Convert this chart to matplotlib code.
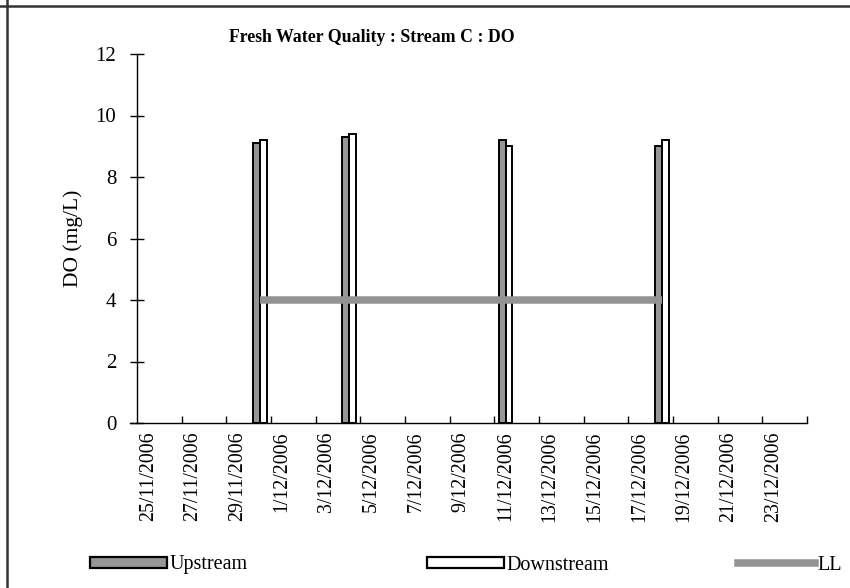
import pandas as pd
import matplotlib
matplotlib.use('Agg')
import matplotlib.pyplot as plt
import matplotlib.dates as mdates
from matplotlib.patches import Patch
from matplotlib.lines import Line2D

# 採樣日期與 DO 數據
sample_dates = ['30/11/2006', '4/12/2006', '11/12/2006', '18/12/2006']
upstream = [9.1, 9.3, 9.2, 9.0]
downstream = [9.2, 9.4, 9.0, 9.2]
ll = [4, 4, 4, 4]

axis_start = '25/11/2006'
axis_days = 30

plt.rcParams['font.family'] = ['Liberation Serif', 'DejaVu Serif']

x = mdates.date2num(pd.to_datetime(sample_dates, dayfirst=True))
x0 = mdates.date2num(pd.to_datetime(axis_start, dayfirst=True))

fig = plt.figure(figsize=(8.5, 5.88), dpi=100)
ax = fig.add_axes([137 / 850, 1 - 423 / 588, 670 / 850, 369 / 588])

bw = 0.3
ax.bar(x - bw / 2, upstream, width=bw, color='#969696', edgecolor='black', linewidth=1.4, label='Upstream')
ax.bar(x + bw / 2, downstream, width=bw, color='white', edgecolor='black', linewidth=1.4, label='Downstream')
ax.plot(x, ll, color='#939393', linewidth=5.4, solid_capstyle='butt', label='LL')

ax.set_xlim(x0 - 0.5, x0 + axis_days - 0.5)
ax.set_ylim(0, 12)
ax.set_yticks(range(0, 13, 2))
ax.tick_params(axis='y', direction='inout', length=10, width=1, labelsize=15, pad=10)

# 刻度線在區間邊界，日期標籤放在日期中心
bounds = [x0 - 0.5 + 2 * k for k in range(1, axis_days // 2 + 1)]
centers = [x0 + 2 * k for k in range(axis_days // 2)]
labels = [mdates.num2date(c).strftime('%d/%m/%Y').lstrip('0').replace('/0', '/') for c in centers]
ax.set_xticks(bounds)
ax.set_xticklabels([])
ax.tick_params(axis='x', which='major', direction='in', length=5, width=1)
ax.set_xticks(centers, minor=True)
ax.set_xticklabels(labels, minor=True, rotation=90, fontsize=14.3)
ax.tick_params(axis='x', which='minor', length=0, pad=6)

for s in ['top', 'right']:
    ax.spines[s].set_visible(False)
ax.spines['left'].set_linewidth(1)
ax.spines['bottom'].set_linewidth(1)
ax.spines['bottom'].set_bounds(x0 - 0.5 - 0.3, x0 + axis_days - 0.5)

ax.set_ylabel('DO (mg/L)', fontsize=15.5, labelpad=9)
fig.text(372 / 850, 1 - 38 / 588, 'Fresh Water Quality : Stream C : DO', ha='center', va='center',
         fontsize=12.8, fontweight='bold')

# 圖例
h_up = Patch(facecolor='#969696', edgecolor='black', linewidth=1.6)
h_dn = Patch(facecolor='white', edgecolor='black', linewidth=1.6)
h_ll = Line2D([], [], color='#939393', linewidth=5.4)
for h, t, xp in [(h_up, 'Upstream', 90), (h_dn, 'Downstream', 427), (h_ll, 'LL', 738)]:
    fig.legend(handles=[h], labels=[t], loc='center left', bbox_to_anchor=(xp / 850, 1 - 565 / 588),
               frameon=False, fontsize=14.5, handlelength=3.8, handleheight=0.5, handletextpad=0.15,
               borderaxespad=0, borderpad=0)

# 外框線
fig.add_artist(Line2D([0, 1], [1 - 6 / 588, 1 - 6 / 588], transform=fig.transFigure, color='#333333', linewidth=1.8))
fig.add_artist(Line2D([7 / 850, 7 / 850], [0, 1], transform=fig.transFigure, color='#333333', linewidth=1.8))

fig.savefig('out.png', dpi=100)
